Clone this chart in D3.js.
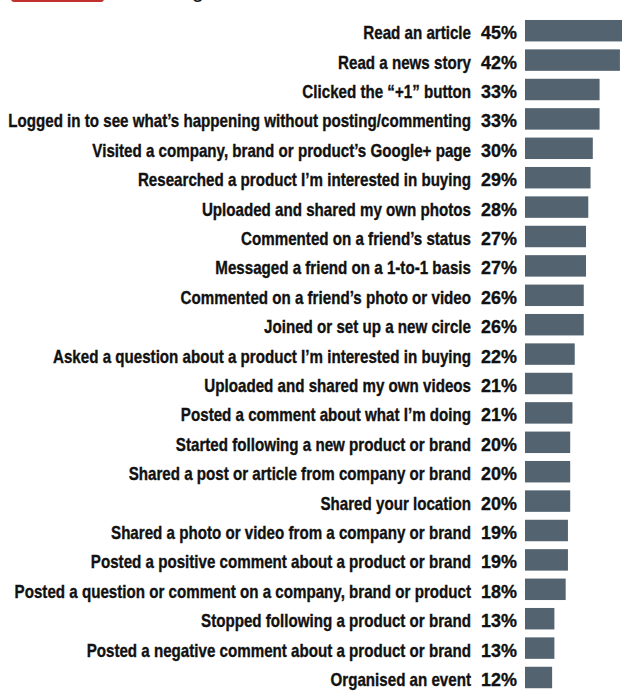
<!DOCTYPE html>
<html>
<head>
<meta charset="utf-8">
<script src="https://cdn.jsdelivr.net/npm/d3@7"></script>
<style>
  body { margin: 0; background: #fff; }
  svg { display: block; }
  .lbl { font-family: "Liberation Sans", Arial, sans-serif; font-weight: bold; fill: #111; stroke: #111; stroke-width: 0.35px; }
</style>
</head>
<body>
<div id="chart"></div>
<script>
"use strict";

// activities, top to bottom
const activities = [
    "Read an article",
    "Read a news story",
    "Clicked the \u201C+1\u201D button",
    "Logged in to see what\u2019s happening without posting/commenting",
    "Visited a company, brand or product\u2019s Google+ page",
    "Researched a product I\u2019m interested in buying",
    "Uploaded and shared my own photos",
    "Commented on a friend\u2019s status",
    "Messaged a friend on a 1-to-1 basis",
    "Commented on a friend\u2019s photo or video",
    "Joined or set up a new circle",
    "Asked a question about a product I\u2019m interested in buying",
    "Uploaded and shared my own videos",
    "Posted a comment about what I\u2019m doing",
    "Started following a new product or brand",
    "Shared a post or article from company or brand",
    "Shared your location",
    "Shared a photo or video from a company or brand",
    "Posted a positive comment about a product or brand",
    "Posted a question or comment on a company, brand or product",
    "Stopped following a product or brand",
    "Posted a negative comment about a product or brand",
    "Organised an event"
];
const percents = [45, 42, 33, 33, 30, 29, 28, 27, 27, 26, 26, 22, 21, 21, 20, 20, 20, 19, 19, 18, 13, 13, 12];

const msm = {
    width: 622,
    height: 691,
    barLeft: 525,
    labelRight: 471,
    longestLabel: 463, // width of the longest label in the original
    pctRight: 517,
    top: 16,
    step: 29.4
}

const svg = d3.select("#chart")
    .append("svg")
    .attr("width", msm.width)
    .attr("height", msm.height);

// header, cut off by the top edge
svg.append("rect")
    .attr("x", 11)
    .attr("y", -22)
    .attr("width", 93)
    .attr("height", 24)
    .attr("rx", 3)
    .attr("fill", "#c0302c");
svg.append("text")
    .attr("x", 204)
    .attr("y", -3)
    .attr("text-anchor", "end")
    .style("font-family", "Liberation Sans, Arial, sans-serif")
    .style("font-size", "22px")
    .attr("fill", "#111")
    .text("Activities when using");

let data = activities.map((a, i) => ({ name: a, value: percents[i] }));

let yScale = d3.scaleBand()
    .domain(activities)
    .range([msm.top, msm.top + msm.step * activities.length])
    .paddingInner(0.27)
    .paddingOuter(0.135);

let xScale = d3.scaleLinear()
    .domain([0, 45])
    .range([0, 101.7]);

let rows = svg.selectAll(".row")
    .data(data)
    .enter()
    .append("g")
    .attr("class", "row")
    .attr("transform", d => "translate(0," + yScale(d.name) + ")");

rows.append("rect")
    .attr("x", msm.barLeft)
    .attr("y", 0)
    .attr("width", d => xScale(d.value))
    .attr("height", yScale.bandwidth())
    .attr("fill", "#536370");

// labels are drawn in a wide font and squeezed to the condensed look
let labels = rows.append("g")
    .attr("class", "labelGroup")
    .attr("transform", "translate(" + msm.labelRight + ",19.3)");
labels.append("text")
    .attr("class", "lbl")
    .attr("text-anchor", "end")
    .style("font-size", "18px")
    .text(d => d.name);

let maxW = d3.max(labels.selectAll("text").nodes(), n => n.getComputedTextLength());
let k = msm.longestLabel / maxW;
labels.attr("transform", "translate(" + msm.labelRight + ",19.3) scale(" + k + ",1)");

rows.append("g")
    .attr("transform", "translate(" + msm.pctRight + ",19.3) scale(0.97,1)")
    .append("text")
    .attr("class", "lbl")
    .attr("text-anchor", "end")
    .style("font-size", "18.5px")
    .text(d => d.value + "%");
</script>
</body>
</html>
